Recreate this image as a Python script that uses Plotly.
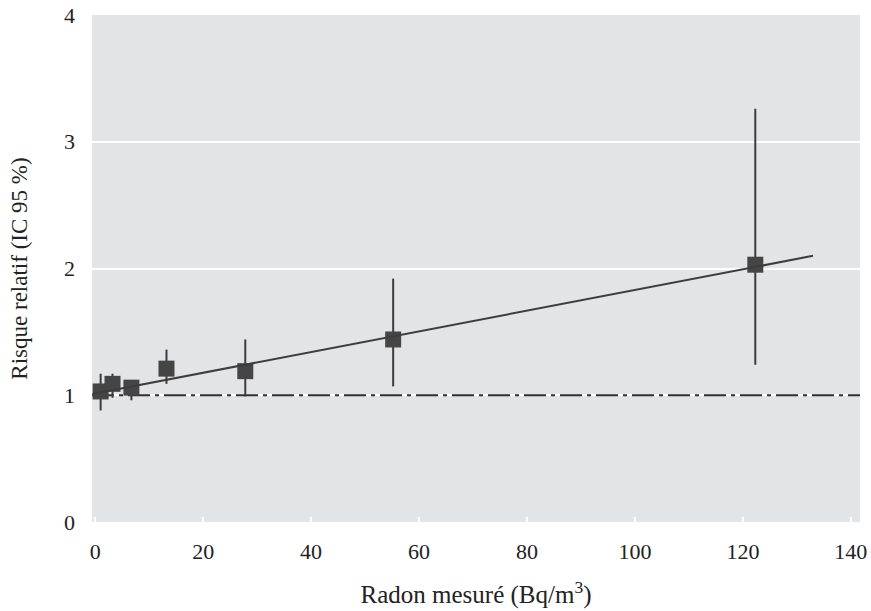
import plotly.graph_objects as go

# Data
radon = [1.0, 3.2, 6.7, 13.2, 27.8, 55.2, 122.3]
rr = [1.03, 1.09, 1.06, 1.21, 1.19, 1.44, 2.03]
ci_low = [0.88, 0.98, 0.96, 1.09, 0.99, 1.07, 1.24]
ci_high = [1.17, 1.17, 1.11, 1.36, 1.44, 1.92, 3.26]

fit_x = [-0.5, 133]
fit_y = [1.01, 2.10]

ref_x = [-0.6, 141.7]
ref_y = [1, 1]

x_ticks = [0, 20, 40, 60, 80, 100, 120, 140]
y_ticks = [0, 1, 2, 3, 4]

dark = "#3d3d3d"
font_family = "Liberation Serif, Times New Roman, serif"

fig = go.Figure()

# reference line at RR = 1
fig.add_trace(go.Scatter(
    x=ref_x, y=ref_y, mode="lines",
    line=dict(color="#2e2e2e", width=2, dash="22px,5px,4px,5px"),
    hoverinfo="skip", showlegend=False,
))

# points with 95% CI (no caps)
fig.add_trace(go.Scatter(
    x=radon, y=rr, mode="markers",
    marker=dict(symbol="square", size=16, color="#454545"),
    error_y=dict(
        type="data", symmetric=False,
        array=[h - v for h, v in zip(ci_high, rr)],
        arrayminus=[v - l for l, v in zip(ci_low, rr)],
        color=dark, thickness=2, width=0,
    ),
    cliponaxis=False, showlegend=False,
))

# regression line
fig.add_trace(go.Scatter(
    x=fit_x, y=fit_y, mode="lines",
    line=dict(color=dark, width=2),
    hoverinfo="skip", showlegend=False,
))

fig.update_layout(
    width=871, height=611,
    margin=dict(l=92, r=11, t=15, b=89, autoexpand=False),
    paper_bgcolor="white",
    plot_bgcolor="#e3e4e6",
    font=dict(family=font_family, color="#222222", size=22),
    showlegend=False,
)

fig.update_xaxes(
    range=[-0.6, 141.7], tickvals=x_ticks, automargin=False,
    showgrid=False, zeroline=False, showline=False,
    ticks="inside", ticklen=5, tickcolor="white", tickwidth=2,
    ticklabelstandoff=14, ticklabeloverflow="allow",
    tickfont=dict(size=22),
    title=dict(text="Radon mesuré (Bq/m<sup>3</sup>)", font=dict(size=25), standoff=22),
)
fig.update_yaxes(
    range=[0, 4], tickvals=y_ticks, automargin=False,
    showgrid=True, gridcolor="white", gridwidth=2,
    zeroline=False, showline=False,
    ticks="", ticklabelstandoff=16, ticklabeloverflow="allow",
    tickfont=dict(size=22),
    title=dict(text="Risque relatif (IC 95 %)", font=dict(size=23), standoff=29),
)

fig.write_html(
    "out.html",
    config={"displayModeBar": False},
    post_script="document.body.style.margin='0';document.body.style.padding='0';",
)
